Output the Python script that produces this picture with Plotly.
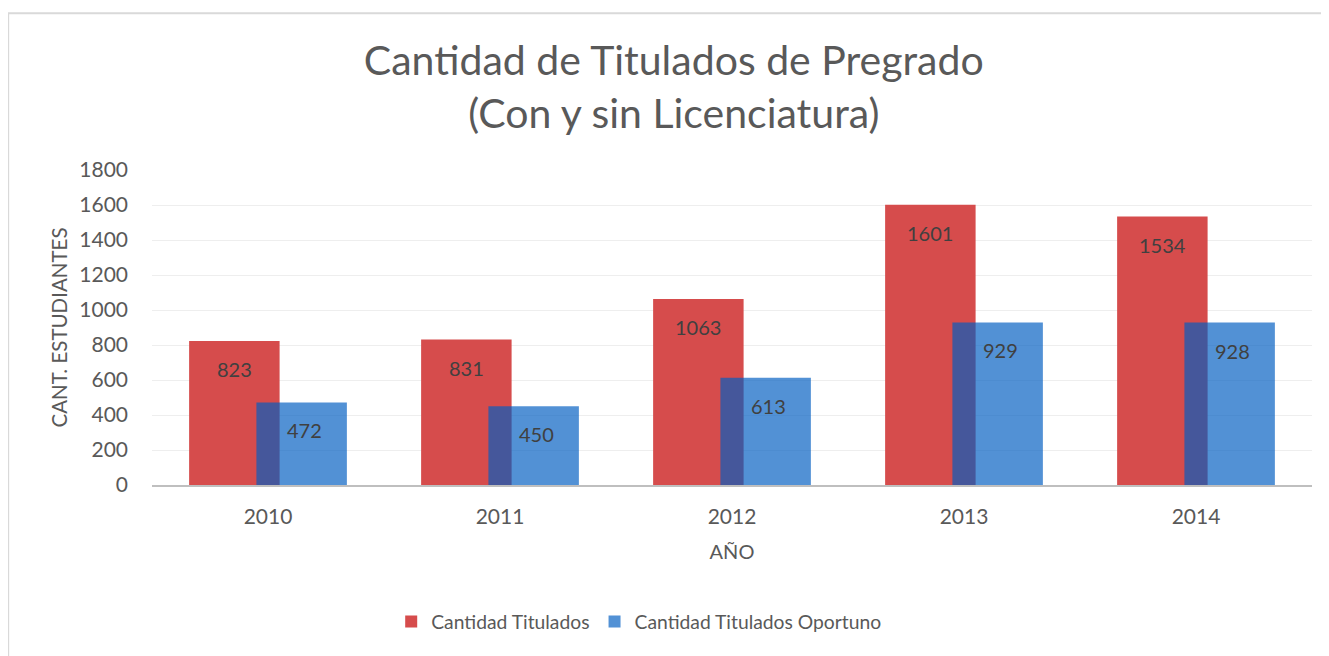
import plotly.graph_objects as go

years = ["2010", "2011", "2012", "2013", "2014"]
titulados = [823, 831, 1063, 1601, 1534]
oportuno = [472, 450, 613, 929, 928]
y_ticks = [0, 200, 400, 600, 800, 1000, 1200, 1400, 1600, 1800]

FONT = "Lato"
TXT = "#595959"
BAR_W = 0.39
RED_OFF = -0.34
BLUE_OFF = -0.05
CAT_PX = 232  # pixel width of one category

fig = go.Figure()
fig.add_trace(go.Bar(
    x=years, y=titulados, name="Cantidad Titulados",
    marker=dict(color="rgb(214,76,76)", line=dict(width=0)),
    width=BAR_W, offset=RED_OFF,
))
fig.add_trace(go.Bar(
    x=years, y=oportuno, name="Cantidad Titulados Oportuno",
    marker=dict(color="rgba(0,93,193,0.68)", line=dict(width=0)),
    width=BAR_W, offset=BLUE_OFF,
))

annotations = []
for vals, off, dx in ((titulados, RED_OFF, 0), (oportuno, BLUE_OFF, 3)):
    for i, v in enumerate(vals):
        annotations.append(dict(
            x=i, y=v, xref="x", yref="y", text=str(v), showarrow=False,
            xshift=(off + BAR_W / 2) * CAT_PX + dx, yshift=-28,
            font=dict(family=FONT, size=20, color="#404040"),
        ))

fig.update_layout(
    width=1321, height=648,
    margin=dict(l=144, r=17, t=162, b=171),
    paper_bgcolor="white", plot_bgcolor="white",
    barmode="overlay",
    font=dict(family=FONT, color=TXT),
    title=dict(
        text="Cantidad de Titulados de Pregrado<br>(Con y sin Licenciatura)",
        x=0.504, xanchor="center", y=0.897, yanchor="middle",
        font=dict(family=FONT, size=41, color=TXT),
    ),
    xaxis=dict(
        type="category", showgrid=False, showline=True, linecolor="#BFBFBF",
        linewidth=2, ticks="", tickfont=dict(size=21, color=TXT),
        ticklabelstandoff=12,
        title=dict(text="AÑO", font=dict(size=20, color=TXT), standoff=18),
    ),
    yaxis=dict(
        range=[0, 1800], tickvals=y_ticks, showgrid=True, gridcolor="#EEEEEE",
        gridwidth=1, zeroline=False, showline=False, ticks="",
        tickfont=dict(size=21, color=TXT), ticklabelstandoff=23,
        title=dict(text="CANT. ESTUDIANTES", font=dict(size=20.5, color=TXT), standoff=6),
    ),
    legend=dict(
        orientation="h", x=0.42, xanchor="center", y=-0.435, yanchor="middle",
        font=dict(size=19.3, color=TXT), itemwidth=30,
    ),
    annotations=annotations,
    shapes=[dict(
        type="rect", xref="paper", yref="paper",
        x0=-0.124, x1=1.2, y0=-1.0, y1=1.498,
        line=dict(color="#D9D9D9", width=2), layer="below",
    )],
)

fig.write_html("out.html")
